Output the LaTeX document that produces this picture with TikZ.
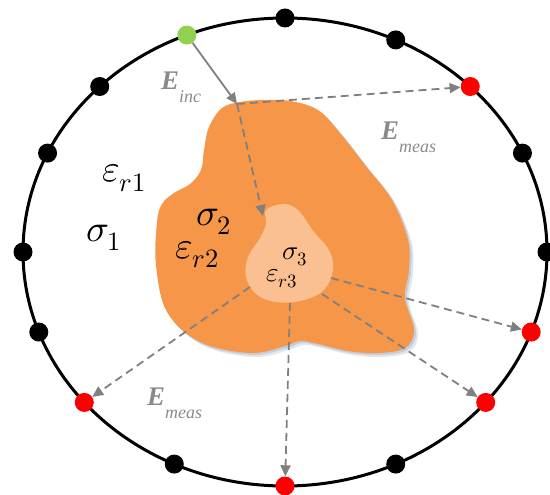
\documentclass[tikz,border=0pt]{standalone}
\usepackage{fontspec}
\usepackage{unicode-math}
\setmainfont{Liberation Serif}
\setmathfont{Latin Modern Math}
\usetikzlibrary{arrows.meta}
\definecolor{orangeA}{RGB}{246,150,72}
\definecolor{orangeB}{RGB}{250,192,145}
\definecolor{greenD}{RGB}{146,208,80}
\definecolor{redD}{RGB}{255,0,0}
\definecolor{arrowgray}{RGB}{128,128,128}
\definecolor{labelgray}{RGB}{138,138,138}
\definecolor{shadowc}{RGB}{140,160,185}
\tikzset{
  dot/.style={circle, minimum size=19bp, inner sep=0pt, fill=#1},
  solidarr/.style={draw=arrowgray, line width=1.8bp, -{Triangle[length=11bp,width=10bp]}},
  dasharr/.style={draw=arrowgray, line width=1.8bp, dash pattern=on 8bp off 5bp, -{Triangle[length=11bp,width=10bp]}},
  biglabel/.style={anchor=base west, inner sep=0pt, font=\fontsize{38}{40}\selectfont},
  smalllabel/.style={anchor=base west, inner sep=0pt, font=\fontsize{27}{30}\selectfont},
  elabel/.style={anchor=base west, inner sep=0pt, text=labelgray}
}
\newcommand{\Elab}[1]{{\fontsize{27}{28}\selectfont\bfseries\itshape E}\raisebox{-13bp}{\fontsize{18}{20}\selectfont\itshape #1}}
\def\blobpts{(222,108) (240,102) (262,100) (290,101) (318,110) (340,133) (365,165) (392,200) (408,240) (409,270) (405,298) (414,330) (405,348) (378,353) (348,351) (318,344) (300,341) (285,346) (250,353) (200,342) (167,312) (156,265) (157,222) (162,204) (174,193) (190,184) (201,170) (204,150) (209,127)}
\begin{document}
\begin{tikzpicture}[x=1bp, y=-1bp]
\useasboundingbox (0,0) rectangle (550,495);
% shadow of blob
\fill[shadowc, opacity=0.25, shift={(4,4)}] plot[smooth cycle, tension=0.6] coordinates {\blobpts};
\fill[shadowc, opacity=0.35, shift={(2,2)}] plot[smooth cycle, tension=0.6] coordinates {\blobpts};
% orange blob
\fill[orangeA] plot[smooth cycle, tension=0.6] coordinates {\blobpts};
% inner blob
\fill[orangeB] plot[smooth cycle, tension=0.6] coordinates {
 (266,210) (283,204) (298,210) (314,232) (329,250) (333,270) (323,291) (300,301) (275,302) (256,294) (246,277) (248,257) (260,238) (266,224)};
% measurement ellipse
\draw[line width=3bp] (285,252) ellipse [x radius=262, y radius=234];
% antennas
\foreach \a/\c/\n in {90/black/d90, 65/black/d65, 45/redD/d45, 25/black/d25, 0/black/d0,
  340/redD/d340, 320/redD/d320, 295/black/d295, 270/redD/d270, 245/black/d245,
  220/redD/d220, 200/black/d200, 180/black/d180, 155/black/d155, 135/black/d135, 112/greenD/d112}
  \node[dot=\c] (\n) at ({285+262*cos(\a)},{252-234*sin(\a)}) {};
% arrow anchor points
\coordinate (hit) at (237,104);
\coordinate (tip) at (263,216);
\coordinate (o220) at (250,287);
\coordinate (o270) at (290,303);
\coordinate (o320) at (322,294);
\coordinate (o340) at (331,278);
% arrows
\draw[solidarr] (d112) -- (hit);
\draw[dasharr] (hit) -- (tip);
\draw[dasharr] (hit) -- (d45);
\draw[dasharr] (o220) -- (d220);
\draw[dasharr] (o270) -- (d270);
\draw[dasharr] (o320) -- (d320);
\draw[dasharr] (o340) -- (d340);
% material labels
\node[biglabel] (er1) at (102,182) {$\varepsilon_{r1}$};
\node[biglabel] (s1) at (86,241) {$\sigma_1$};
\node[biglabel] (s2) at (196,225) {$\sigma_2$};
\node[biglabel] (er2) at (175,258) {$\varepsilon_{r2}$};
\node[smalllabel] (s3) at (282,259) {$\sigma_3$};
\node[smalllabel] (er3) at (266,281) {$\varepsilon_{r3}$};
% field labels
\node[elabel] (einc) at (161,90) {\Elab{inc}};
\node[elabel] (emeas1) at (381,140) {\Elab{meas}};
\node[elabel] (emeas2) at (147,405) {\Elab{meas}};
\end{tikzpicture}
\end{document}
